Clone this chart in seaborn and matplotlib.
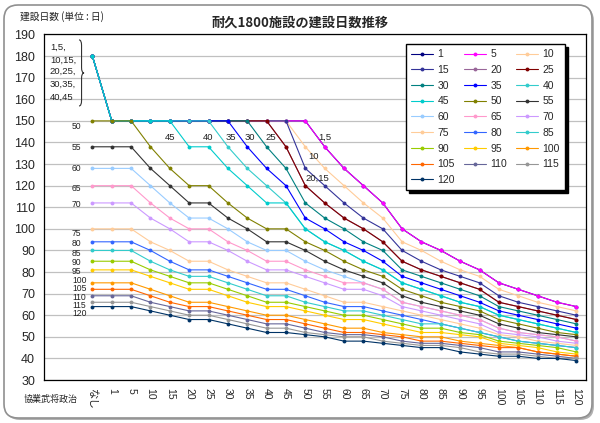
import matplotlib
matplotlib.use("Agg")
import matplotlib.pyplot as plt
import matplotlib.transforms as mtransforms
import pandas as pd
import seaborn as sns
from matplotlib.patches import FancyBboxPatch, PathPatch
from matplotlib.path import Path

# x軸カテゴリ（先頭2つは注記用の空欄）
x_labels = ["", "", "なし", "1", "5", "10", "15", "20", "25", "30", "35", "40",
            "45", "50", "55", "60", "65", "70", "75", "80", "85", "90", "95",
            "100", "105", "110", "115", "120"]

# 系列名（建設値）
names = ["1", "5", "10", "15", "20", "25", "30", "35", "40", "45", "50", "55",
         "60", "65", "70", "75", "80", "85", "90", "95", "100", "105", "110",
         "115", "120"]

# 建設日数: なし,1,5,10,...,120
s1 = [180, 150, 150, 150, 150, 150, 150, 150, 150, 150, 150, 150, 138, 128, 120, 112, 100, 94, 90, 85, 81, 75, 72, 69, 66, 64]
s5 = [180, 150, 150, 150, 150, 150, 150, 150, 150, 150, 150, 150, 138, 128, 120, 112, 100, 94, 90, 85, 81, 75, 72, 69, 66, 64]
s10 = [180, 150, 150, 150, 150, 150, 150, 150, 150, 150, 150, 138, 128, 120, 112, 105, 94, 90, 85, 81, 78, 72, 69, 66, 64, 62]
s15 = [180, 150, 150, 150, 150, 150, 150, 150, 150, 150, 150, 128, 120, 112, 105, 100, 90, 85, 81, 78, 75, 69, 66, 64, 62, 60]
s20 = [180, 150, 150, 150, 150, 150, 150, 150, 150, 150, 138, 120, 112, 105, 100, 94, 85, 81, 78, 75, 72, 66, 64, 62, 60, 58]
s25 = [180, 150, 150, 150, 150, 150, 150, 150, 150, 150, 138, 120, 112, 105, 100, 94, 85, 81, 78, 75, 72, 66, 64, 62, 60, 58]
s30 = [180, 150, 150, 150, 150, 150, 150, 150, 150, 138, 128, 112, 105, 100, 94, 90, 81, 78, 75, 72, 69, 64, 62, 60, 58, 56]
s35 = [180, 150, 150, 150, 150, 150, 150, 150, 138, 128, 120, 105, 100, 94, 90, 85, 78, 75, 72, 69, 66, 62, 60, 58, 56, 54]
s40 = [180, 150, 150, 150, 150, 150, 150, 138, 128, 120, 112, 100, 94, 90, 85, 81, 75, 72, 69, 66, 64, 60, 58, 56, 54, 52]
s45 = [180, 150, 150, 150, 150, 138, 138, 128, 120, 112, 112, 100, 94, 90, 85, 81, 75, 72, 69, 66, 64, 60, 58, 56, 54, 52]
s50 = [150, 150, 150, 138, 128, 120, 120, 112, 105, 100, 100, 94, 90, 85, 81, 78, 72, 69, 66, 64, 62, 58, 56, 54, 52, 51]
s55 = [138, 138, 138, 128, 120, 112, 112, 105, 100, 94, 94, 90, 85, 81, 78, 75, 69, 66, 64, 62, 60, 56, 54, 52, 51, 50]
s60 = [128, 128, 128, 120, 112, 105, 105, 100, 94, 90, 90, 85, 81, 78, 75, 72, 66, 64, 62, 60, 58, 54, 52, 51, 50, 48]
s65 = [120, 120, 120, 112, 105, 100, 100, 94, 90, 85, 85, 81, 78, 75, 75, 72, 66, 64, 62, 60, 58, 54, 52, 51, 50, 48]
s70 = [112, 112, 112, 105, 100, 94, 94, 90, 85, 81, 81, 78, 75, 72, 72, 69, 64, 62, 60, 58, 56, 52, 51, 50, 48, 47]
s75 = [100, 100, 100, 94, 90, 85, 85, 81, 78, 75, 75, 72, 69, 66, 66, 64, 62, 60, 58, 56, 54, 51, 50, 48, 47, 46]
s80 = [94, 94, 94, 90, 85, 81, 81, 78, 75, 72, 72, 69, 66, 64, 64, 62, 60, 58, 56, 54, 52, 50, 48, 47, 46, 45]
s85 = [90, 90, 90, 85, 81, 78, 78, 75, 72, 69, 69, 66, 64, 62, 62, 60, 58, 56, 56, 54, 52, 50, 48, 47, 46, 45]
s90 = [85, 85, 85, 81, 78, 75, 75, 72, 69, 66, 66, 64, 62, 60, 60, 58, 56, 54, 54, 52, 51, 48, 47, 46, 45, 43]
s95 = [81, 81, 81, 78, 75, 72, 72, 69, 66, 64, 64, 62, 60, 58, 58, 56, 54, 52, 52, 51, 50, 47, 46, 45, 43, 42]
s100 = [75, 75, 75, 72, 69, 66, 66, 64, 62, 60, 60, 58, 56, 54, 54, 52, 51, 50, 50, 48, 47, 46, 45, 43, 42, 41]
s105 = [72, 72, 72, 69, 66, 64, 64, 62, 60, 58, 58, 56, 54, 52, 52, 51, 50, 48, 48, 47, 46, 45, 45, 43, 42, 41]
s110 = [69, 69, 69, 66, 64, 62, 62, 60, 58, 56, 56, 54, 52, 51, 51, 50, 48, 47, 47, 46, 45, 43, 43, 42, 41, 40]
s115 = [66, 66, 66, 64, 62, 60, 60, 58, 56, 54, 54, 52, 51, 50, 50, 48, 47, 46, 46, 45, 43, 42, 42, 41, 40, 40]
s120 = [64, 64, 64, 62, 60, 58, 58, 56, 54, 52, 52, 51, 50, 48, 48, 47, 46, 45, 45, 43, 42, 41, 41, 40, 40, 39]

all_series = [s1, s5, s10, s15, s20, s25, s30, s35, s40, s45, s50, s55, s60,
              s65, s70, s75, s80, s85, s90, s95, s100, s105, s110, s115, s120]

colors = ["#000080", "#FF00FF", "#FFCC99", "#333399", "#996699", "#800000",
          "#008080", "#0000FF", "#33CCCC", "#00CCCC", "#808000", "#333333",
          "#99CCFF", "#FF99CC", "#CC99FF", "#FFCC99", "#3366FF", "#33CCCC",
          "#99CC00", "#FFCC00", "#FF9900", "#FF6600", "#666699", "#969696",
          "#003366"]

# 左側の系列ラベル（なし の値の横）
side_labels = ["50", "55", "60", "65", "70", "75", "80", "85", "90", "95",
               "100", "105", "110", "115", "120"]
side_label_y = [147.5, 137.5, 127.8, 118.8, 111.4, 97.7, 93.0, 88.7, 84.6,
                80.4, 76.2, 72.3, 68.4, 64.6, 60.8]

# 150日から下がり始める点のラベル
top_labels = ["45", "40", "35", "30", "25"]
top_label_x = [6.0, 8.0, 9.15, 10.15, 11.2]

brace_lines = ["1,5,", "10,15,", "20,25,", "30,35,", "40,45"]
brace_line_y = [184.1, 178.0, 172.8, 167.1, 161.0]

# --- データ整形 ---
rows = []
for name, vals in zip(names, all_series):
    for lab, v in zip(x_labels[2:], vals):
        rows.append({"series": name, "pos": x_labels.index(lab), "days": v})
df = pd.DataFrame(rows)

sns.set_style("white")
plt.rcParams["font.family"] = ["Liberation Sans", "Noto Sans CJK JP"]

W, H = 600, 423
fig = plt.figure(figsize=(W / 100, H / 100), dpi=100)
fig.patch.set_facecolor("white")

# 外枠（角丸＋影）
ident = mtransforms.IdentityTransform()
fig.add_artist(FancyBboxPatch((6, 3), 588, 413, boxstyle="round,pad=0,rounding_size=14",
                              transform=ident, facecolor="#b0b0b0", edgecolor="none",
                              zorder=-10))
fig.add_artist(FancyBboxPatch((4, 5), 588, 413, boxstyle="round,pad=0,rounding_size=14",
                              transform=ident, facecolor="white", edgecolor="#909090",
                              lw=1.2, zorder=-9))

ax = fig.add_axes([44 / W, 1 - 380 / H, 542 / W, 345.5 / H])
ax.set_facecolor("white")

sns.lineplot(data=df, x="pos", y="days", hue="series", hue_order=names,
             palette=dict(zip(names, colors)), estimator=None, sort=False,
             marker="o", markersize=2.8, markeredgewidth=0, linewidth=0.8,
             legend=False, ax=ax)

ax.set_xlim(-0.5, 27.5)
ax.set_ylim(30, 190)
ax.set_yticks(range(30, 191, 10))
ax.set_xticks(range(len(x_labels)))
ax.set_xticklabels(x_labels, rotation=-90, fontsize=7.5)
ax.set_xticks([i + 0.5 for i in range(len(x_labels) - 1)], minor=True)
ax.tick_params(axis="x", which="major", length=0, pad=6)
ax.tick_params(axis="x", which="minor", direction="in", length=3, width=0.7, color="black")
ax.tick_params(axis="y", direction="out", length=3.5, width=0.7, labelsize=9, pad=3,
               color="black")
ax.set_xlabel("")
ax.set_ylabel("")
ax.yaxis.grid(True, color="#c0c0c0", lw=0.9)
ax.set_axisbelow(True)
for sp in ax.spines.values():
    sp.set_color("black")
    sp.set_linewidth(0.9)

# 注記テキスト
for lab, y in zip(side_labels, side_label_y):
    ax.text(0.95, y, lab, ha="left", va="center", fontsize=6.2, color="#222222")
for lab, x in zip(top_labels, top_label_x):
    ax.text(x, 142.3, lab, ha="center", va="center", fontsize=6.8, color="#222222")
ax.text(13.65, 142.5, "1,5", ha="left", va="center", fontsize=6.8, color="#222222")
ax.text(13.13, 133.5, "10", ha="left", va="center", fontsize=6.8, color="#222222")
ax.text(13.02, 123.6, "20,15", ha="left", va="center", fontsize=6.8, color="#222222")
for lab, y in zip(brace_lines, brace_line_y):
    ax.text(-0.2, y, lab, ha="left", va="center", fontsize=6.8, color="#222222")

# 中括弧
xl, xt = 1.31, 1.57
xm = (xl + xt) / 2
yt, ym, yb, d = 187.5, 172.2, 156.9, 2.5
verts = [(xl, yt), (xm, yt), (xm, yt - d), (xm, ym + d), (xm, ym), (xt, ym),
         (xm, ym), (xm, ym - d), (xm, yb + d), (xm, yb), (xl, yb)]
codes = [Path.MOVETO, Path.CURVE3, Path.CURVE3, Path.LINETO, Path.CURVE3, Path.CURVE3,
         Path.CURVE3, Path.CURVE3, Path.LINETO, Path.CURVE3, Path.CURVE3]
ax.add_patch(PathPatch(Path(verts, codes), fill=False, lw=0.8, edgecolor="#333333"))

# 凡例（行方向に並べる）
lines = ax.get_lines()[:len(names)]
order = [i for c in range(3) for i in range(c, len(names), 3)]
ax.legend([lines[i] for i in order], [names[i] for i in order], ncol=3,
          loc="upper left", bbox_to_anchor=(0.668, 0.9725), borderaxespad=0,
          fontsize=7.5, frameon=True, fancybox=False, edgecolor="black",
          framealpha=1, shadow={"color": "black", "alpha": 1},
          handlelength=2.1, handletextpad=0.4, columnspacing=0.9,
          labelspacing=0.55, borderpad=0.5)

fig.text(0.5, 1 - 23 / H, "耐久1800施設の建設日数推移", ha="center", va="center",
         fontsize=9.5, fontweight="bold", family=["Noto Sans CJK JP"])
fig.text(20 / W, 1 - 17 / H, "建設日数 (単位 : 日)", ha="left", va="center",
         fontsize=7, family=["Noto Sans CJK JP"], color="#222222")
fig.text(51 / W, 1 - 399 / H, "協業武将政治", ha="center", va="center",
         fontsize=6.5, family=["Noto Sans CJK JP"], color="#222222")

fig.savefig("out.png", dpi=100, facecolor="white")
